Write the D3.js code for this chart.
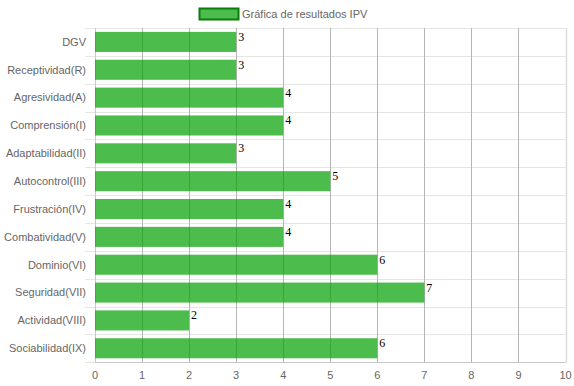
<!DOCTYPE html>
<html><head><meta charset="utf-8">
<script src="https://cdn.jsdelivr.net/npm/d3@7"></script>
<style>body{margin:0;background:#fff}svg{display:block}</style>
</head><body>
<svg id="c" width="574" height="386"></svg>
<script>
const categories = ["DGV","Receptividad(R)","Agresividad(A)","Comprensión(I)","Adaptabilidad(II)","Autocontrol(III)","Frustración(IV)","Combatividad(V)","Dominio(VI)","Seguridad(VII)","Actividad(VIII)","Sociabilidad(IX)"];
const values = [3,3,4,4,3,5,4,4,6,7,2,6];
const xTicks = [0,1,2,3,4,5,6,7,8,9,10];
const seriesName = "Gráfica de resultados IPV";

const svg = d3.select("#c");
const L = 95, R = 565.5, T = 28, B = 362.2;
const x = d3.scaleLinear().domain([0,10]).range([L,R]);
const y = d3.scaleBand().domain(categories).range([T,B]);
const font = "Liberation Sans, Arial, Helvetica, sans-serif";
const fs = 11;

// horizontal grid lines (category boundaries)
const g = svg.append("g");
d3.range(categories.length+1).forEach(i=>{
  const yy = Math.round(T + i*y.step()) + 0.5;
  g.append("line").attr("x1",L-10).attr("x2",R).attr("y1",yy).attr("y2",yy)
    .attr("stroke", "#e6e6e6").attr("stroke-width",1);
});
// vertical grid lines
xTicks.forEach(t=>{
  const xx = Math.round(x(t)) + 0.5;
  let col = "#b5b5b5";
  if (t===0) col = "#c8c8c8";
  if (t===10) col = "#dcdcdc";
  g.append("line").attr("x1",xx).attr("x2",xx).attr("y1",T).attr("y2",B)
    .attr("stroke",col).attr("stroke-width", t===10?1.5:1);
});
// x axis line
svg.append("line").attr("x1",L).attr("x2",R).attr("y1",Math.round(B)+0.5).attr("y2",Math.round(B)+0.5)
  .attr("stroke","#c8c8c8");

// bars
const bh = y.bandwidth()*0.72;
svg.append("g").selectAll("rect").data(values).join("rect")
  .attr("x", x(0))
  .attr("y", (d,i)=> y(categories[i]) + (y.bandwidth()-bh)/2)
  .attr("width", d=> x(d)-x(0))
  .attr("height", bh)
  .attr("fill","rgba(0,160,0,0.7)");

// value labels
svg.append("g").selectAll("text").data(values).join("text")
  .attr("x", d=> x(d)+2)
  .attr("y", (d,i)=> y(categories[i]) + (y.bandwidth()-bh)/2 + 9)
  .attr("font-family","Liberation Serif, Times New Roman, serif")
  .attr("font-size",12).attr("fill","#000")
  .text(d=>d);

// y labels
svg.append("g").selectAll("text").data(categories).join("text")
  .attr("x", 86).attr("y", d=> y(d)+y.bandwidth()/2)
  .attr("dy","0.35em").attr("text-anchor","end")
  .attr("font-family",font).attr("font-size",fs).attr("fill","#666")
  .text(d=>d);

// x labels
svg.append("g").selectAll("text").data(xTicks).join("text")
  .attr("x", d=> x(d)).attr("y", 375)
  .attr("dy","0.35em").attr("text-anchor","middle")
  .attr("font-family",font).attr("font-size",fs).attr("fill","#666")
  .text(d=>d);

// legend
svg.append("rect").attr("x",199.5).attr("y",8.5).attr("width",39).attr("height",11)
  .attr("fill","rgba(0,160,0,0.7)").attr("stroke","#0a7d0a").attr("stroke-width",2);
svg.append("text").attr("x",242).attr("y",14).attr("dy","0.35em")
  .attr("font-family",font).attr("font-size",fs).attr("fill","#666").text(seriesName);
</script>
</body></html>
